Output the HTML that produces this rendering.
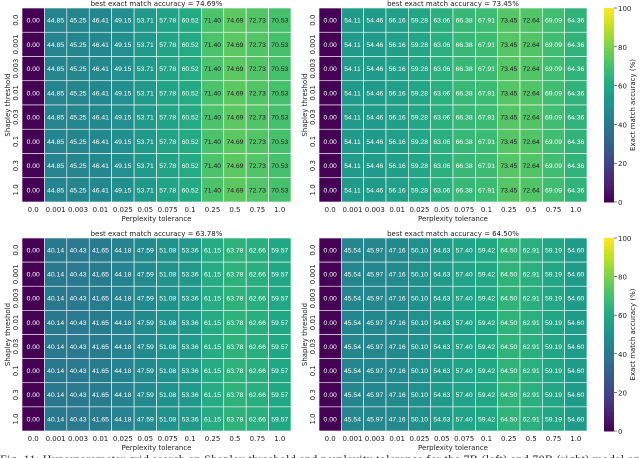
<!DOCTYPE html>
<html><head><meta charset="utf-8">
<style>
body{margin:0;background:#fff;width:640px;height:458px;overflow:hidden;font-family:"DejaVu Sans","Liberation Sans",sans-serif;}
svg{display:block}
</style></head>
<body>
<svg id="fig" width="640" height="458" xmlns="http://www.w3.org/2000/svg"></svg>
<script>
const xCategories=["0.0","0.001","0.003","0.01","0.025","0.05","0.075","0.1","0.25","0.5","0.75","1.0"];
const yCategories=["0.0","0.001","0.003","0.01","0.03","0.1","0.3","1.0"];
const panelTitles=["best exact match accuracy = 74.69%","best exact match accuracy = 73.45%","best exact match accuracy = 63.78%","best exact match accuracy = 64.50%"];
const rowValues7bTop=[0.00,44.85,45.25,46.41,49.15,53.71,57.78,60.52,71.40,74.69,72.73,70.53];
const rowValues70bTop=[0.00,54.11,54.46,56.16,59.28,63.06,66.38,67.91,73.45,72.64,69.09,64.36];
const rowValues7bBottom=[0.00,40.14,40.43,41.65,44.18,47.59,51.08,53.36,61.15,63.78,62.66,59.57];
const rowValues70bBottom=[0.00,45.54,45.97,47.16,50.10,54.63,57.40,59.42,64.50,62.91,59.19,54.60];
const colorbarTicks=[0,20,40,60,80,100];

const NS="http://www.w3.org/2000/svg";
const svg=document.getElementById('fig');
const vir=[[68,1,84],[72,36,117],[65,68,135],[53,95,141],[42,120,142],[33,144,141],[34,168,132],[68,191,112],[122,209,81],[189,223,38],[253,231,37]];
function viridis(t){t=Math.max(0,Math.min(1,t));const p=t*10,i=Math.min(9,Math.floor(p)),f=p-i;const a=vir[i],b=vir[i+1];return `rgb(${a.map((v,k)=>Math.round(v+(b[k]-v)*f)).join(',')})`;}
function el(tag,attrs,parent){const e=document.createElementNS(NS,tag);for(const k in attrs)e.setAttribute(k,attrs[k]);(parent||svg).appendChild(e);return e;}
function txt(s,attrs,parent){const e=el('text',attrs,parent);e.textContent=s;return e;}

const panels=[
 {x0:22,x1:291,y0:8,y1:202,vals:rowValues7bTop,name:'heatmap-7b-top'},
 {x0:319,x1:587,y0:8,y1:202,vals:rowValues70bTop,name:'heatmap-70b-top'},
 {x0:22,x1:291,y0:238,y1:431,vals:rowValues7bBottom,name:'heatmap-7b-bottom'},
 {x0:319,x1:587,y0:238,y1:431,vals:rowValues70bBottom,name:'heatmap-70b-bottom'}];

panels.forEach((p,pi)=>{
 const g=el('g',{});
 
 
 const cw=(p.x1-p.x0)/xCategories.length, ch=(p.y1-p.y0)/yCategories.length;
 const xs=i=>p.x0+i*cw, ys=j=>p.y0+j*ch;
 yCategories.forEach((yc,j)=>{
  xCategories.forEach((xc,i)=>{
   const v=p.vals[i];
   const r=el('rect',{x:xs(i),y:ys(j),width:cw,height:ch,fill:viridis(v/100),stroke:'#fff','stroke-width':0.6},g);
   
   
   const t=txt(v.toFixed(2),{x:xs(i)+cw/2,y:ys(j)+ch/2+2.4,'text-anchor':'middle','font-size':'6.8px','font-family':'Liberation Sans, sans-serif',fill:v>70?'#222':'#fff'},g);
   
   
  });
 });
 xCategories.forEach((xc,i)=>{
  const t=txt(xc,{x:xs(i)+cw/2,y:p.y1+10,'text-anchor':'middle','font-size':'7px',fill:'#222'},g);
  
  
 });
 yCategories.forEach((yc,j)=>{
  const cy=ys(j)+ch/2, cx=p.x0-4;
  const t=txt(yc,{x:cx,y:cy,'text-anchor':'middle','font-size':'7px',fill:'#222',transform:`rotate(-90 ${cx} ${cy})`},g);
  
  
 });
 const xl=txt('Perplexity tolerance',{x:(p.x0+p.x1)/2,y:p.y1+19,'text-anchor':'middle','font-size':'7px',fill:'#222'},g);
 
 
 const ly=(p.y0+p.y1)/2, lx=p.x0-12;
 const yl=txt('Shapley threshold',{x:lx,y:ly,'text-anchor':'middle','font-size':'7px',fill:'#222',transform:`rotate(-90 ${lx} ${ly})`},g);
 
 
 const tt=txt(panelTitles[pi],{x:(p.x0+p.x1)/2,y:p.y0-2,'text-anchor':'middle','font-size':'7px',fill:'#222'},g);
 
 
});

// colorbars
[[8,202],[238,431]].forEach(([y0,y1])=>{
 const g=el('g',{});
 
 
 const n=50,h=(y1-y0)/n;
 for(let k=0;k<n;k++){el('rect',{x:604,y:y1-(k+1)*h,width:10,height:h+0.5,fill:viridis((k+0.5)/n)},g);}
 colorbarTicks.forEach(v=>{
  const y=y1-(v/100)*(y1-y0);
  el('line',{x1:614,x2:617,y1:y,y2:y,stroke:'#222','stroke-width':0.6},g);
  const t=txt(String(v),{x:618,y:y+3,'font-size':'7px',fill:'#222'},g);
  
  
 });
 const cy=(y0+y1)/2;
 const t=txt('Exact match accuracy (%)',{x:635,y:cy,'text-anchor':'middle','font-size':'7px',fill:'#222',transform:`rotate(-90 635 ${cy})`},g);
 
 
});

const cap=txt('Fig. 11: Hyperparameter grid search on Shapley threshold and perplexity tolerance for the 7B (left) and 70B (right) model on',{x:0,y:463,'font-size':'12px','font-family':'Liberation Serif, serif',fill:'#222',textLength:'640'});


</script>
</body></html>
